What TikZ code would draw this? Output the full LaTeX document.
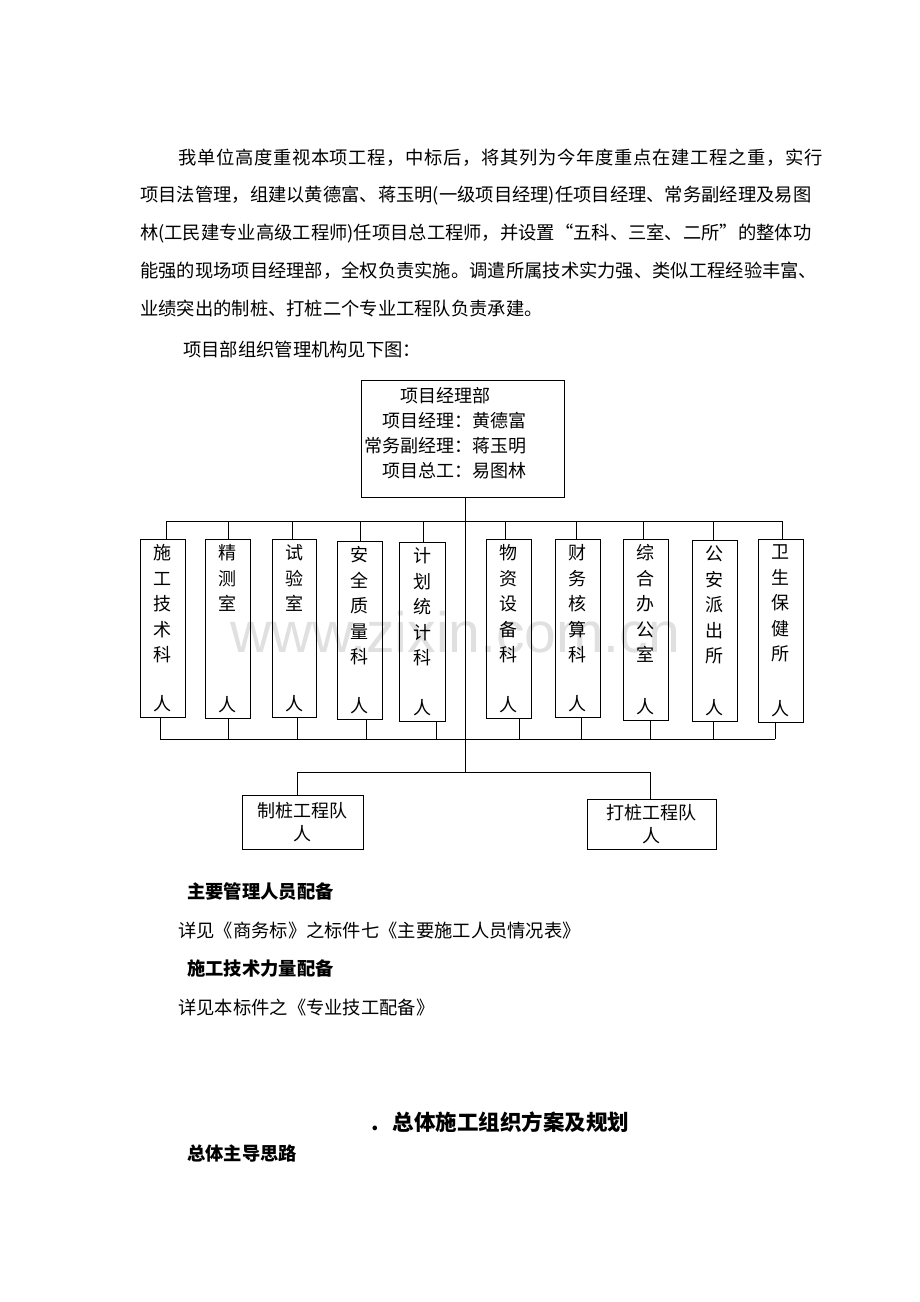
\documentclass[tikz,border=0pt]{standalone}
\usepackage{fontspec}
\newfontfamily\cjk{Noto Sans CJK SC}
\newfontfamily\cjkwide{Noto Sans CJK SC}[LetterSpace=3.7]
\newfontfamily\wmfont{Liberation Sans}

\tikzset{
  para/.style={anchor=base west, inner sep=0pt, font=\cjk\fontsize{18.3}{22}\selectfont},
  head/.style={para, font=\cjk\bfseries\fontsize{18.3}{22}\selectfont},
  boxtext/.style={anchor=base west, inner sep=0pt, font=\cjk\fontsize{18}{22}\selectfont},
  dept/.style={draw, line width=0.9pt, inner sep=0pt},
  vtext/.style={inner sep=0pt, align=center, font=\cjk\fontsize{18}{25.5}\selectfont},
  team/.style={dept, align=center, font=\cjk\fontsize{18}{23}\selectfont},
  link/.style={line width=0.9pt},
}

\begin{document}
\begin{tikzpicture}[x=1pt,y=-1pt]
  \path[use as bounding box, fill=white] (0,0) rectangle (920,1302);
  % watermark
  \node[anchor=base west, inner sep=0pt, text=black!12, font=\wmfont\fontsize{57}{60}\selectfont] (wm) at (230,652) {www.zixin.com.cn};

  % paragraph
  \node[para, font=\cjkwide\fontsize{18.3}{22}\selectfont] (p1) at (178,164) {我单位高度重视本项工程，中标后，将其列为今年度重点在建工程之重，实行};
  \node[para] (p2) at (140,201) {项目法管理，组建以黄德富、蒋玉明(一级项目经理)任项目经理、常务副经理及易图};
  \node[para] (p3) at (140,239) {林(工民建专业高级工程师)任项目总工程师，并设置“五科、三室、二所”的整体功};
  \node[para] (p4) at (140,277) {能强的现场项目经理部，全权负责实施。调遣所属技术实力强、类似工程经验丰富、};
  \node[para] (p5) at (140,315) {业绩突出的制桩、打桩二个专业工程队负责承建。};
  \node[para] (p6) at (183,356) {项目部组织管理机构见下图：};

  % project office
  \node[dept, minimum width=203, minimum height=117] (pm) at (462.5,438.5) {};
  \node[boxtext] (pm1) at (400,402) {项目经理部};
  \node[boxtext] (pm2) at (382,427) {项目经理：黄德富};
  \node[boxtext] (pm3) at (364,452) {常务副经理：蒋玉明};
  \node[boxtext] (pm4) at (382,477) {项目总工：易图林};
  \coordinate (sp) at (465,772);
  \draw[link] (pm.south -| sp) -- (sp);

  % departments
  \foreach \n/\l/\r/\t/\b/\tc/\bc/\txt in {
      1/140/185/539/717/166/160/{施\\工\\技\\术\\科},
      2/205/250/539/718/228/228/{精\\测\\室},
      3/272/316/539/717/292/297/{试\\验\\室},
      4/337/382/541/719/360/366/{安\\全\\质\\量\\科},
      5/399/445/542/721/423/436/{计\\划\\统\\计\\科},
      6/486/531/539/718/505/519/{物\\资\\设\\备\\科},
      7/555/600/539/717/576/581/{财\\务\\核\\算\\科},
      8/623/668/539/720/643/650/{综\\合\\办\\公\\室},
      9/692/737/540/721/713/713/{公\\安\\派\\出\\所},
      10/758/803/539/722/782/775/{卫\\生\\保\\健\\所}}{
    \node[dept, minimum width={\r-\l}, minimum height={\b-\t}] (d\n) at ({(\l+\r)/2},{(\t+\b)/2}) {};
    \node[vtext, anchor=north] (t\n) at ([yshift=-6pt]d\n.north) {\txt};
    \node[vtext] (r\n) at ([yshift=14pt]d\n.south) {人};
    \coordinate (ta\n) at (\tc,521);
    \coordinate (ba\n) at (\bc,739);
    \draw[link] (ta\n) -- (ta\n |- d\n.north);
    \draw[link] (ba\n |- d\n.south) -- (ba\n);
  }
  \draw[link] (ta1) -- (ta10);
  \draw[link] (ba1) -- (ba10);

  % pile teams
  \node[team, minimum width=121, minimum height=54] (zd) at (302.5,822) {制桩工程队\\人};
  \node[team, minimum width=129, minimum height=50] (dd) at (651.5,824) {打桩工程队\\人};
  \coordinate (bl) at (297,772);
  \coordinate (br) at (650,772);
  \draw[link] (bl) -- (br);
  \draw[link] (bl) -- (bl |- zd.north);
  \draw[link] (br) -- (br |- dd.north);

  % text below
  \node[head] (h1) at (187,898) {主要管理人员配备};
  \node[para] (s1) at (178,937) {详见《商务标》之标件七《主要施工人员情况表》};
  \node[head] (h2) at (187,975) {施工技术力量配备};
  \node[para] (s2) at (178,1014) {详见本标件之《专业技工配备》};
  \node[head, font=\cjk\bfseries\fontsize{21.5}{26}\selectfont] (h3) at (371,1130) {.\hspace{14pt}总体施工组织方案及规划};
  \node[head] (h4) at (187,1160) {总体主导思路};
\end{tikzpicture}
\end{document}
